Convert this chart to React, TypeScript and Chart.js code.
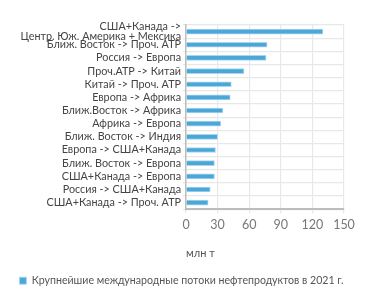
import React, { useEffect, useRef } from "react";
import { Chart, registerables } from "chart.js";

Chart.register(...registerables);

const categories: (string | string[])[] = [
  ["США+Канада ->", "Центр. Юж. Америка + Мексика"],
  "Ближ. Восток -> Проч. АТР",
  "Россия -> Европа",
  "Проч.АТР -> Китай",
  "Китай -> Проч. АТР",
  "Европа -> Африка",
  "Ближ.Восток -> Африка",
  "Африка -> Европа",
  "Ближ. Восток -> Индия",
  "Европа -> США+Канада",
  "Ближ. Восток -> Европа",
  "США+Канада -> Европа",
  "Россия -> США+Канада",
  "США+Канада -> Проч. АТР",
];

const values: number[] = [130, 77, 76, 55, 43, 42, 35, 33, 30, 28, 27, 27, 23, 21];

const seriesLabel = "Крупнейшие международные потоки нефтепродуктов в 2021 г.";
const axisTitle = "млн т";
const xMin = 0;
const xMax = 150;
const xStep = 30;

export default function App() {
  const ref = useRef<HTMLCanvasElement | null>(null);
  useEffect(() => {
    document.body.style.margin = "0";
    if (!ref.current) return;
    const font = "Lato, sans-serif";
    const leftPad = 19;
    const chart = new Chart(ref.current, {
      type: "bar",
      data: {
        labels: categories,
        datasets: [
          {
            label: seriesLabel,
            data: values,
            backgroundColor: "#4ba7d7",
            borderColor: "#a9d6ef",
            borderWidth: 1,
            barThickness: 5,
          },
        ],
      },
      options: {
        indexAxis: "y",
        animation: false,
        responsive: false,
        maintainAspectRatio: false,
        layout: { padding: { top: 25, right: 27, left: leftPad, bottom: 7 } },
        scales: {
          x: {
            min: xMin,
            max: xMax,
            ticks: { stepSize: xStep, color: "#777", font: { family: font, size: 12.5 }, padding: 4 },
            grid: { color: "#e8e8e8", tickLength: 4, lineWidth: 1.2 },
            border: { color: "#bdbdbd", width: 2 },
            title: {
              display: true,
              text: axisTitle,
              align: "start",
              color: "#555",
              font: { family: font, size: 11 },
              padding: { top: 11, bottom: 7 },
            },
          },
          y: {
            afterFit: (scale: any) => {
              scale.width = 186 - leftPad;
            },
            ticks: {
              color: "#444",
              font: { family: font, size: 10.8, lineHeight: 1 },
              padding: 2,
              autoSkip: false,
            },
            grid: { color: "#e8e8e8", tickLength: 3, lineWidth: 1.2 },
            border: { color: "#bdbdbd", width: 1.5 },
          },
        },
        plugins: {
          legend: {
            position: "bottom",
            labels: {
              boxWidth: 7,
              boxHeight: 7,
              color: "#555",
              font: { family: font, size: 10.6 },
              padding: 8,
            },
          },
          tooltip: { enabled: false },
        },
      },
    });
    return () => chart.destroy();
  }, []);
  return (
    <div style={{ width: 371, height: 303 }}>
      <canvas ref={ref} width={371} height={303} style={{ width: 371, height: 303 }} />
    </div>
  );
}
